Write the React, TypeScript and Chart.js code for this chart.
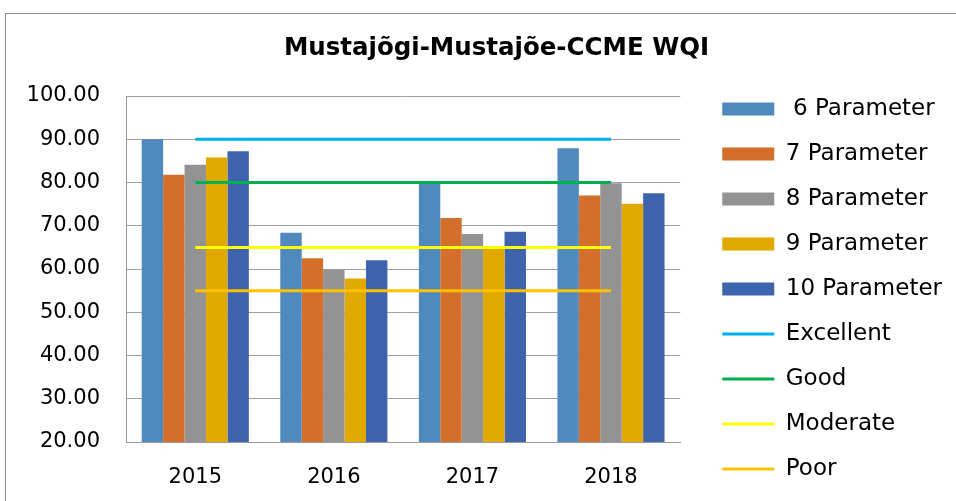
import React, { useEffect, useRef } from "react";
import { Chart, registerables } from "chart.js";

Chart.register(...registerables);

const TITLE = "Mustajõgi-Mustajõe-CCME WQI";
const YEARS = ["2015", "2016", "2017", "2018"];

const SERIES_NAMES = [" 6 Parameter", "7 Parameter", "8 Parameter", "9 Parameter", "10 Parameter"];
const P6 = [90.0, 68.4, 79.8, 87.9];
const P7 = [81.8, 62.5, 71.8, 77.0];
const P8 = [84.1, 59.9, 68.1, 79.8];
const P9 = [85.8, 57.8, 65.3, 75.1];
const P10 = [87.2, 62.0, 68.6, 77.5];
const BAR_COLORS = ["#4F89BD", "#D36F2B", "#939393", "#E1A800", "#3D64AD"];

const CLASS_NAMES = ["Excellent", "Good", "Moderate", "Poor"];
const CLASS_LIMITS = [90, 80, 65, 55];
const LINE_COLORS = ["#00B0F0", "#00B050", "#FFFF00", "#FFC000"];

const Y_MIN = 20;
const Y_MAX = 100;
const Y_STEP = 10;

const FONT = "'DejaVu Sans', Verdana, sans-serif";

const titleShift = {
  id: "titleShift",
  afterLayout(chart: any) {
    const t = chart.titleBlock;
    if (t) {
      t.left = t.left + 21;
    }
  },
};

export default function App() {
  const ref = useRef<HTMLCanvasElement | null>(null);

  useEffect(() => {
    const canvas = ref.current;
    if (!canvas) return;
    const barValues = [P6, P7, P8, P9, P10];
    const barSets = barValues.map((vals, i) => ({
      type: "bar" as const,
      label: SERIES_NAMES[i],
      data: vals,
      backgroundColor: BAR_COLORS[i],
      borderWidth: 0,
      categoryPercentage: 0.773,
      barPercentage: 1.0,
      pointStyle: "rect",
      order: 2,
    }));
    const lineSets = CLASS_LIMITS.map((lim, i) => ({
      type: "line" as const,
      label: CLASS_NAMES[i],
      data: YEARS.map(() => lim),
      borderColor: LINE_COLORS[i],
      backgroundColor: LINE_COLORS[i],
      borderWidth: 3,
      pointRadius: 0,
      pointHoverRadius: 0,
      pointStyle: "line",
      pointBorderColor: LINE_COLORS[i],
      pointBorderWidth: 3,
      order: 1,
    }));

    const chart = new Chart(canvas, {
      type: "bar",
      data: {
        labels: YEARS,
        datasets: [...barSets, ...lineSets] as any,
      },
      plugins: [titleShift],
      options: {
        responsive: false,
        animation: false,
        devicePixelRatio: 1,
        layout: { padding: { left: 20, right: 4, top: 0, bottom: -1.5 } },
        plugins: {
          title: {
            display: true,
            text: TITLE,
            color: "#000",
            font: { family: FONT, size: 24.5, weight: "bold" },
            padding: { top: 34, bottom: 32.6 },
          },
          legend: {
            display: true,
            position: "right",
            align: "end",
            maxWidth: 400,
            labels: {
              usePointStyle: true,
              pointStyleWidth: 52,
              boxHeight: 13,
              color: "#000",
              padding: 22,
              font: { family: FONT, size: 23 },
              sort: (a: any, b: any) => a.datasetIndex - b.datasetIndex,
            },
          },
          tooltip: { enabled: false },
        },
        scales: {
          x: {
            grid: { display: false },
            border: { display: true, color: "#999999", width: 1 },
            ticks: { color: "#000", font: { family: FONT, size: 21 }, padding: 15 },
            afterFit: (s: any) => {
              s.height = 60.5;
            },
          },
          y: {
            min: Y_MIN,
            max: Y_MAX,
            ticks: {
              stepSize: Y_STEP,
              color: "#000",
              font: { family: FONT, size: 21 },
              padding: 26,
              callback: (v: any) => Number(v).toFixed(2),
            },
            grid: { color: "#A0A0A0", lineWidth: 1, drawTicks: false },
            border: { display: true, color: "#999999", width: 1 },
            afterFit: (s: any) => {
              s.width = 106;
            },
          },
          gap: {
            type: "linear",
            position: "right",
            display: true,
            grid: { display: false, drawTicks: false },
            border: { display: false },
            ticks: { display: false },
            afterFit: (s: any) => {
              s.width = 20;
            },
          },
        },
      } as any,
    });
    return () => chart.destroy();
  }, []);

  return (
    <div style={{ position: "absolute", left: 0, top: 0, width: 956, height: 501, overflow: "hidden", background: "#fff" }}>
      <div
        style={{
          position: "absolute",
          left: 5,
          top: 13,
          width: 1200,
          height: 1200,
          border: "1px solid #8C8C8C",
        }}
      />
      <canvas ref={ref} width={956} height={501} style={{ position: "absolute", left: 0, top: 0, display: "block" }} />
    </div>
  );
}
